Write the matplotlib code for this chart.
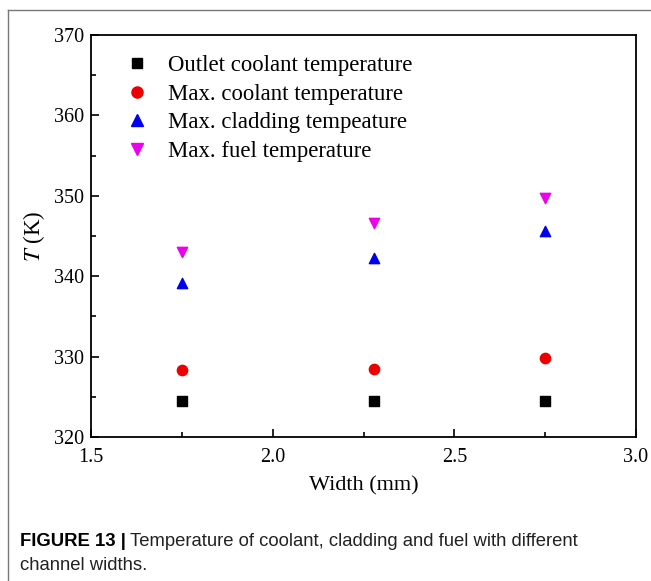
import matplotlib
matplotlib.use("Agg")
import matplotlib.pyplot as plt
from matplotlib.ticker import MultipleLocator
from matplotlib.lines import Line2D

width = [1.75, 2.28, 2.75]
outlet_coolant = [324.5, 324.5, 324.5]
max_coolant = [328.3, 328.4, 329.8]
max_cladding = [339.2, 342.3, 345.6]
max_fuel = [343.0, 346.6, 349.7]

plt.rcParams['font.family'] = ['Liberation Serif']
plt.rcParams['mathtext.fontset'] = 'stix'

fig = plt.figure(figsize=(6.51, 5.81), dpi=100)
W, H = 651, 581
ax = fig.add_axes([91 / W, 1 - 437 / H, (636 - 91) / W, (437 - 35) / H])

ax.scatter(width, outlet_coolant, marker='s', s=45, color='black', zorder=3)
ax.scatter(width, max_coolant, marker='o', s=55, color='#ee0000', zorder=3)
ax.scatter(width, max_cladding, marker='^', s=55, color='#0000ee', zorder=3)
ax.scatter(width, max_fuel, marker='v', s=55, color='#ee00ee', zorder=3)

ax.set_xlim(1.5, 3.0)
ax.set_ylim(320, 370)
ax.xaxis.set_major_locator(MultipleLocator(0.5))
ax.xaxis.set_minor_locator(MultipleLocator(0.25))
ax.yaxis.set_major_locator(MultipleLocator(10))
ax.yaxis.set_minor_locator(MultipleLocator(5))
ax.tick_params(which='both', direction='in', top=False, right=False, labelsize=14.5)
ax.tick_params(axis='x', which='major', pad=8)
ax.tick_params(axis='y', which='major', pad=5)
ax.tick_params(which='major', length=6, width=1.2)
ax.tick_params(which='minor', length=3.5, width=1.2)
for sp in ax.spines.values():
    sp.set_linewidth(1.3)
ax.set_xlabel('Width (mm)', fontsize=16, labelpad=6.5)
ax.set_ylabel('$T$ (K)', fontsize=16.5, labelpad=5)

handles = [
    Line2D([], [], ls='none', marker='s', ms=7, color='black'),
    Line2D([], [], ls='none', marker='o', ms=8, color='#ee0000'),
    Line2D([], [], ls='none', marker='^', ms=8, color='#0000ee'),
    Line2D([], [], ls='none', marker='v', ms=8, color='#ee00ee'),
]
labels = ['Outlet coolant temperature', 'Max. coolant temperature',
          'Max. cladding tempeature', 'Max. fuel temperature']
ax.legend(handles, labels, loc='upper left', frameon=False, fontsize=16.4,
          handlelength=1.0, handletextpad=0.9, labelspacing=0.34,
          borderaxespad=0.0, bbox_to_anchor=(0.046, 0.973))

# page frame lines
fig.add_artist(Line2D([8 / W, 8 / W], [0, 1 - 10 / H], color='#777777', lw=1))
fig.add_artist(Line2D([8 / W, 1], [1 - 10 / H, 1 - 10 / H], color='#777777', lw=1))

cap_font = ['Liberation Sans']
t = fig.text(20 / W, 1 - 541 / H, 'FIGURE 13 |', fontsize=13.3, fontweight='bold',
             family=cap_font, va='center')
fig.canvas.draw()
bb = t.get_window_extent()
fig.text((bb.x1 + 4) / W, 1 - 541 / H, 'Temperature of coolant, cladding and fuel with different',
         fontsize=13.3, family=cap_font, va='center', color='#222222')
fig.text(20 / W, 1 - 566 / H, 'channel widths.', fontsize=13.3, family=cap_font,
         va='center', color='#222222')

fig.savefig('out.png', dpi=100)
